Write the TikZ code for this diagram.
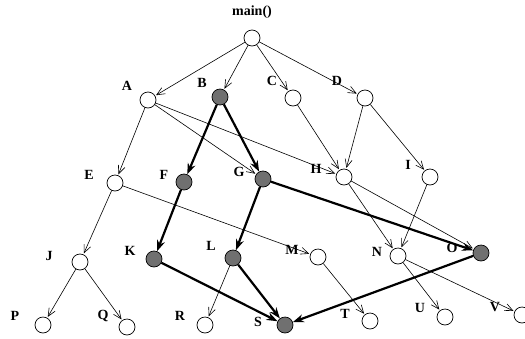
\documentclass[tikz,border=0pt]{standalone}
\usepackage{fontspec}
\setmainfont{Liberation Serif}
\usepackage{tikz}
\usetikzlibrary{arrows.meta}
\definecolor{hotnode}{RGB}{112,112,112}

\tikzset{
  fn/.style={circle,draw,line width=0.7pt,minimum size=16pt,inner sep=0pt},
  lbl/.style={font=\fontsize{14}{16}\selectfont\bfseries,inner sep=0pt},
  call/.style={line width=0.6pt,-{Straight Barb[length=8pt,width=7pt]},shorten >=1pt},
  hot/.style={line width=2.2pt,-{Stealth[length=11pt,width=8pt]},shorten >=0pt}
}

\begin{document}
\begin{tikzpicture}[x=1pt,y=-1pt]
\useasboundingbox (0,0) rectangle (525,338);
% functions of the call graph
\foreach \n/\x/\y/\c in {main/252/38/white,
A/148/100/white,B/220/97/hotnode,C/293/98/white,D/365/98/white,
E/115/183/white,F/184/182/hotnode,G/263/179/hotnode,H/344/177/white,I/430/177/white,
J/80/262/white,K/154/259/hotnode,L/233/258/hotnode,M/318/257/white,N/398/256/white,O/481/253/hotnode,
P/43/325/white,Q/127/327/white,R/205/325/white,S/285/325/hotnode,T/370/321/white,U/445/317/white,V/522/315/white}{
\node[fn,fill=\c] (\n) at (\x,\y) {};
}
% names
\node[lbl] (lmain) at (252,12) {main()};
\foreach \n/\x/\y in {A/127/86,B/202/83,C/272/81,D/337/81,
E/89/175,F/164/175,G/239/172,H/316/169,I/408/165,
J/49/256,K/130/251,L/211/246,M/292/250,N/377/252,O/452/248,
P/15/316,Q/103/316,R/180/316,S/258/322,T/345/314,U/420/308,V/495/307}{
\node[lbl] (l\n) at (\x,\y) {\n};
}
% ordinary calls
\foreach \a/\b in {main/A,main/B,main/C,main/D,A/E,A/G,A/H,C/H,D/H,D/I,
E/J,E/M,H/N,H/O,I/N,J/P,J/Q,L/R,M/T,N/U,N/V}{
\draw[call] (\a) -- (\b);
}
% hot path
\foreach \a/\b in {B/F,B/G,F/K,G/L,G/O,K/S,L/S,O/S}{
\draw[hot] (\a) -- (\b);
}
\end{tikzpicture}
\end{document}
